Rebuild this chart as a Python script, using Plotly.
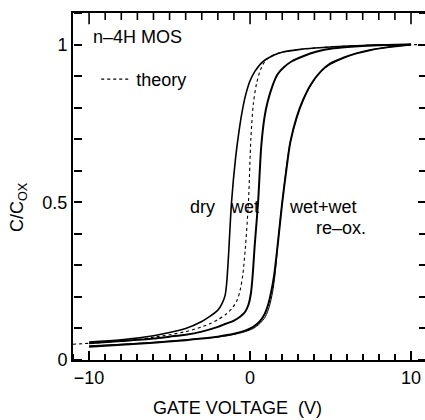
import plotly.graph_objects as go

# ---- data ----
dry_v = [-10, -8, -6, -5, -4, -3, -2.5, -2, -1.75, -1.55, -1.45, -1.35, -1.15, -0.9, -0.7, -0.5, -0.3, 0, 0.3, 0.8, 1.5, 2.1, 3, 4, 5.2, 7, 8.5, 10]
dry_c = [0.057, 0.064, 0.077, 0.087, 0.1, 0.122, 0.138, 0.158, 0.178, 0.205, 0.245, 0.32, 0.5, 0.64, 0.72, 0.785, 0.835, 0.885, 0.915, 0.946, 0.967, 0.977, 0.984, 0.989, 0.993, 0.997, 0.999, 1.0]

theory_v = [-11, -9, -7, -6, -5, -4, -3, -2.5, -2, -1.5, -1.1, -0.8, -0.6, -0.45, -0.3, -0.1, 0.05, 0.2, 0.4, 0.65, 1.0, 1.5, 2.1, 3, 4, 5.2, 7, 8.5, 10.87]
theory_c = [0.05, 0.056, 0.065, 0.072, 0.08, 0.09, 0.105, 0.115, 0.128, 0.145, 0.165, 0.19, 0.225, 0.27, 0.35, 0.5, 0.7, 0.81, 0.875, 0.92, 0.952, 0.968, 0.977, 0.984, 0.989, 0.993, 0.997, 0.999, 1.0]

wet_v = [-10, -8, -6, -5, -4, -3, -2, -1.5, -1, -0.6, -0.3, -0.1, 0.05, 0.15, 0.3, 0.5, 0.7, 0.9, 1.1, 1.4, 1.7, 2.1, 2.6, 3.3, 4.1, 5.2, 6.5, 8, 10]
wet_c = [0.053, 0.06, 0.068, 0.074, 0.08, 0.09, 0.105, 0.115, 0.125, 0.138, 0.153, 0.175, 0.21, 0.26, 0.37, 0.5, 0.68, 0.77, 0.82, 0.87, 0.905, 0.928, 0.947, 0.963, 0.977, 0.988, 0.994, 0.998, 1.0]

reox_v = [-10, -8, -6, -4, -3, -2, -1, -0.3, 0.2, 0.6, 0.9, 1.15, 1.35, 1.5, 1.75, 2.0, 2.25, 2.5, 2.9, 3.3, 3.8, 4.4, 5.0, 5.8, 6.6, 7.5, 8.5, 10]
reox_c = [0.042, 0.048, 0.055, 0.063, 0.068, 0.074, 0.083, 0.093, 0.105, 0.122, 0.145, 0.18, 0.225, 0.27, 0.38, 0.5, 0.6, 0.69, 0.77, 0.825, 0.875, 0.915, 0.94, 0.958, 0.972, 0.983, 0.991, 1.0]

reox2_v = [-10, -8, -6, -4, -2, -1, -0.3, 0.2, 0.6, 0.95, 1.2, 1.4, 1.55, 1.75, 2.0, 2.5, 3.3, 4.4, 5.8, 7.5, 10]
reox2_c = [0.045, 0.05, 0.056, 0.064, 0.073, 0.081, 0.09, 0.1, 0.115, 0.137, 0.17, 0.215, 0.27, 0.38, 0.5, 0.69, 0.825, 0.915, 0.958, 0.983, 1.0]

x_ticks = [-10, 0, 10]
x_ticktext = ["\u221210", "0", "10"]
x_minor_ticks = [-9, -8, -7, -6, -5, -4, -3, -2, -1, 1, 2, 3, 4, 5, 6, 7, 8, 9]
y_ticks = [0, 0.5, 1]
y_ticktext = ["0", "0.5", "1"]
x_range = [-11, 10.87]
y_range = [0, 1.1]

FONT = "Liberation Sans, Arial, sans-serif"

fig = go.Figure()

def curve(v, c, width, name=None, dash=None, show=False):
    fig.add_trace(go.Scatter(
        x=v, y=c, mode="lines", name=name, showlegend=show,
        line=dict(color="black", width=width, dash=dash, shape="spline", smoothing=0.8),
        hoverinfo="skip"))

curve(reox2_v, reox2_c, 1.0)
curve(reox_v, reox_c, 2.0)
curve(wet_v, wet_c, 2.0)
curve(dry_v, dry_c, 1.6)
curve(theory_v, theory_c, 1.1, name="theory", dash="3px,3px", show=True)

# top-frame ticks: line markers centred on the top edge, clipped to the plot area
for vals, size in [(x_ticks, 16), (x_minor_ticks, 10)]:
    fig.add_trace(go.Scatter(
        x=vals, y=[y_range[1]] * len(vals), mode="markers", showlegend=False, hoverinfo="skip",
        cliponaxis=True,
        marker=dict(symbol="line-ns", size=size, line=dict(color="black", width=1.6))))

# empty helper traces so the tick-only axes get drawn
for xa, ya in [("x2", "y"), ("x", "y2"), ("x", "y3")]:
    fig.add_trace(go.Scatter(x=[None], y=[None], xaxis=xa, yaxis=ya, mode="lines",
                             showlegend=False, hoverinfo="skip"))

labels = [
    ("n\u20134H MOS", -9.88, 1.024, "left"),
    ("dry", -2.95, 0.485, "center"),
    ("wet", -0.34, 0.485, "center"),
    ("wet+wet", 4.53, 0.485, "center"),
    ("re\u2013ox.", 5.65, 0.418, "center"),
]
for txt, x, y, al in labels:
    fig.add_annotation(x=x, y=y, xref="x", yref="y", text=txt, showarrow=False,
                       xanchor=al, yanchor="middle", font=dict(size=18, color="black", family=FONT))

pw = 425 - 73
ph = 420 - 13 - 60
fig.add_annotation(x=(237 - 73) / pw, y=(360 - 408) / ph, xref="paper", yref="paper",
                   text="GATE VOLTAGE\u00a0\u00a0(V)", xanchor="center", yanchor="middle",
                   showarrow=False, font=dict(size=18, color="black", family=FONT))
fig.add_annotation(x=(18 - 73) / pw, y=(360 - 207) / ph, xref="paper", yref="paper",
                   text="C/C<sub>OX</sub>", textangle=-90, xanchor="center", yanchor="middle",
                   showarrow=False, font=dict(size=18, color="black", family=FONT))

tickfont = dict(size=18, color="black", family=FONT)

# main axes: frame + labels
fig.update_layout(
    xaxis=dict(range=x_range, showgrid=False, zeroline=False, automargin=False,
               showline=True, linecolor="black", linewidth=2, mirror=True,
               ticks="", tickmode="array", tickvals=x_ticks, ticktext=x_ticktext,
               tickfont=tickfont),
    yaxis=dict(range=y_range, showgrid=False, zeroline=False, automargin=False,
               showline=True, linecolor="black", linewidth=2, mirror=True,
               ticks="", tickmode="array", tickvals=y_ticks, ticktext=y_ticktext,
               tickfont=tickfont),
)

def ytick_axis(pos, side, major_len, minor_len):
    return dict(range=y_range, overlaying="y", anchor="free", position=pos, side=side,
                showgrid=False, zeroline=False, showline=False, showticklabels=False, automargin=False,
                ticks="outside", tickcolor="black", ticklen=major_len, tickwidth=1.6,
                tickmode="array", tickvals=y_ticks,
                minor=dict(ticks="outside", ticklen=minor_len, tickwidth=1.6, tickcolor="black",
                           dtick=0.1, tick0=0, showgrid=False))

fig.update_layout(
    xaxis2=dict(range=x_range, overlaying="x", anchor="free", position=0, side="top",
                showgrid=False, zeroline=False, showline=False, showticklabels=False, automargin=False,
                ticks="outside", tickcolor="black", ticklen=9, tickwidth=1.6,
                tickmode="array", tickvals=x_ticks,
                minor=dict(ticks="outside", ticklen=6, tickwidth=1.6, tickcolor="black",
                           dtick=1, tick0=-10, showgrid=False)),
    yaxis2=ytick_axis(0, "right", 8, 8),
    yaxis3=ytick_axis(1, "left", 7, 6),
)

fig.update_layout(
    width=425, height=420,
    margin=dict(l=73, r=0, t=13, b=60),
    paper_bgcolor="white", plot_bgcolor="white",
    showlegend=True,
    legend=dict(x=0.066, y=0.862, xanchor="left", yanchor="top", bgcolor="rgba(0,0,0,0)",
                font=dict(size=18, color="black", family=FONT), itemwidth=30),
)

fig.write_html("out.html")
